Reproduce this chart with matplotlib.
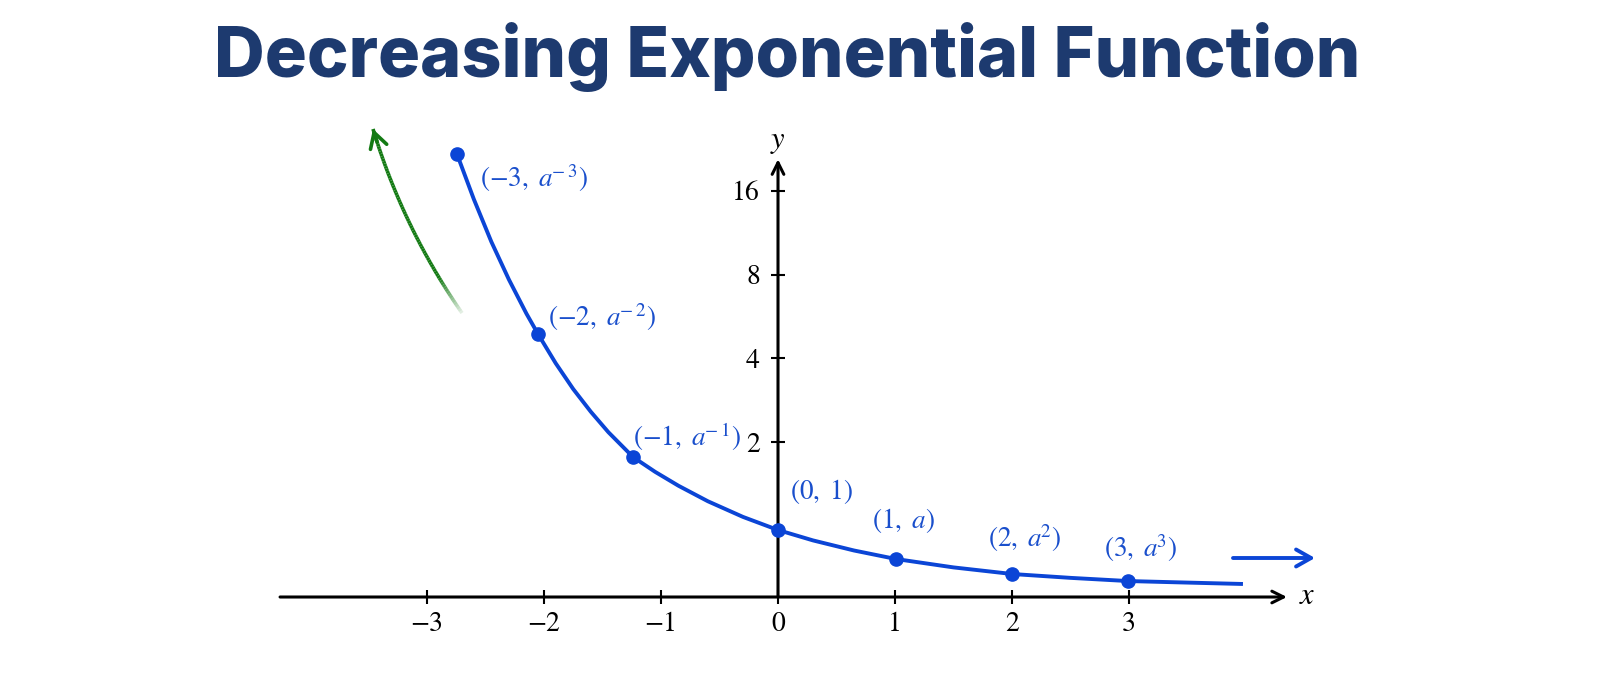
import matplotlib.pyplot as plt
import numpy as np
from matplotlib.collections import LineCollection

plt.rcParams['mathtext.fontset'] = 'stix'
plt.rcParams['font.family'] = 'STIXGeneral'

### 데이터

x_ticks = [-3, -2, -1, 0, 1, 2, 3]
y_ticks = [2, 4, 8, 16]

# 곡선 위의 점들
curve_x = [-2.744, -2.6, -2.45, -2.3, -2.15, -2.051, -1.9, -1.75, -1.6,
           -1.45, -1.239, -1.05, -0.85, -0.6, -0.3, 0.0, 0.3, 0.65, 1.009,
           1.5, 2.0, 2.5, 2.991, 3.5, 3.974]
curve_y = [21.72, 14.95, 10.50, 7.68, 5.79, 4.89, 3.84, 3.10, 2.57,
           2.17, 1.806, 1.615, 1.435, 1.236, 1.034, 0.8645, 0.730, 0.600, 0.490,
           0.382, 0.297, 0.247, 0.206, 0.186, 0.168]

# 표시된 점과 라벨
point_x = [-2.744, -2.051, -1.239, 0.0, 1.009, 2.000, 2.991]
point_y = [21.72, 4.89, 1.806, 0.8645, 0.490, 0.297, 0.206]
point_labels = [r'$(-3,\ a^{\!\!-3})$', r'$(-2,\ a^{\!\!-2})$',
                r'$(-1,\ a^{\!\!-1})$', r'$(0,\ 1)$', r'$(1,\ a)$',
                r'$(2,\ a^{\!2})$', r'$(3,\ a^{\!3})$']
# 라벨 위치 (점 기준 offset, pt)
label_offsets = [(16.6, -17.3), (7.2, 12.2), (0, 14.4), (8.6, 27.4),
                 (-17.3, 28), (-17.3, 26), (-17.3, 23.8)]

BLUE = '#0b45d6'
LABEL_BLUE = '#1a4fcc'
GREEN = '#137a13'
NAVY = '#1d3a6f'

# y축: 0~2 구간은 선형, 2 이상은 2배마다 같은 간격
C2 = 155 / 83.7


def fwd(y):
    y = np.asarray(y, dtype=float)
    return np.where(y <= 2, y * C2 / 2, C2 + np.log2(np.maximum(y, 2) / 2))


def inv(p):
    p = np.asarray(p, dtype=float)
    return np.where(p <= C2, p * 2 / C2, 2 * 2 ** (np.clip(p, C2, 40) - C2))


def ref_px(x, y):
    # 참고 그림의 픽셀 좌표 -> axes 비율 좌표 (장식용)
    return x / 1600, 1 - y / 700


fig = plt.figure(figsize=(16, 7), dpi=100)
ax = fig.add_axes([0, 0, 1, 1])
ax.set_yscale('function', functions=(fwd, inv))
ax.set_xlim(-6.6496, 7.0256)
ax.set_ylim(-1.329, 77.77)

for s in ax.spines.values():
    s.set_visible(False)
ax.spines['left'].set_position(('data', 0))
ax.spines['bottom'].set_position(('data', 0))

ax.set_xticks(x_ticks, labels=[str(v).replace('-', '\u2212') for v in x_ticks])
ax.set_yticks(y_ticks, labels=[str(v) for v in y_ticks])
ax.minorticks_off()
ax.tick_params(axis='both', direction='inout', length=10, width=1.5,
               labelsize=20, color='black')
ax.tick_params(axis='x', pad=6)
ax.tick_params(axis='y', pad=8)

# 좌표축 화살표
axis_arrow = dict(arrowstyle='->,head_length=0.6,head_width=0.3', lw=2.2,
                  color='black', shrinkA=0, shrinkB=0, mutation_scale=14)
ax.annotate('', xy=(4.35, 0), xytext=(-4.256, 0), arrowprops=axis_arrow)
ax.annotate('', xy=(0, 20.8), xytext=(0, 0), arrowprops=axis_arrow)
ax.annotate(r'$x$', xy=(4.35, 0), xytext=(14.4, 0), textcoords='offset points',
            ha='center', va='center', fontsize=22)
ax.annotate(r'$y$', xy=(0, 20.8), xytext=(0, 12), textcoords='offset points',
            ha='center', va='center', fontsize=22)

# 곡선과 점
ax.plot(curve_x, curve_y, color=BLUE, lw=2.8, solid_capstyle='butt',
        solid_joinstyle='round', zorder=3)
ax.plot(point_x, point_y, 'o', color=BLUE, ms=9.5, zorder=4)
for px, py, lab, off in zip(point_x, point_y, point_labels, label_offsets):
    ax.annotate(lab, xy=(px, py), xytext=off, textcoords='offset points',
                ha='left', va='center', fontsize=19.5, color=LABEL_BLUE)

# 오른쪽 파란 화살표
ax.annotate('', xy=ref_px(1315, 558), xytext=ref_px(1233, 558),
            xycoords='axes fraction', textcoords='axes fraction',
            arrowprops=dict(arrowstyle='->,head_length=0.6,head_width=0.34',
                            lw=2.8, color=BLUE, shrinkA=0, shrinkB=0,
                            mutation_scale=18))

# 왼쪽 초록 화살표 (아래쪽이 흐려짐)
p0 = np.array(ref_px(462, 313))
p1 = np.array(ref_px(403, 228))
p2 = np.array(ref_px(373, 129))
t = np.linspace(0, 1, 80)[:, None]
bez = (1 - t) ** 2 * p0 + 2 * (1 - t) * t * p1 + t ** 2 * p2
segs = np.stack([bez[:-1], bez[1:]], axis=1)
alphas = np.clip(0.12 + (t[:-1, 0] / 0.2) * 0.88, 0, 1)
cols = [(0.075, 0.478, 0.075, a) for a in alphas]
ax.add_collection(LineCollection(segs, colors=cols, linewidths=2.6,
                                 transform=ax.transAxes, capstyle='butt'))
ax.annotate('', xy=tuple(p2), xytext=tuple(bez[-6]),
            xycoords='axes fraction', textcoords='axes fraction',
            arrowprops=dict(arrowstyle='->,head_length=0.6,head_width=0.34',
                            lw=2.6, color=GREEN, shrinkA=0, shrinkB=0,
                            mutation_scale=18))

# 제목
fig.text(0.492, 1 - 77 / 700, 'Decreasing Exponential Function',
         ha='center', va='baseline', fontsize=50.5, fontweight=800,
         family=['Inter', 'DejaVu Sans'], color=NAVY)

plt.savefig('out.png', dpi=100, facecolor='white')
plt.close()
